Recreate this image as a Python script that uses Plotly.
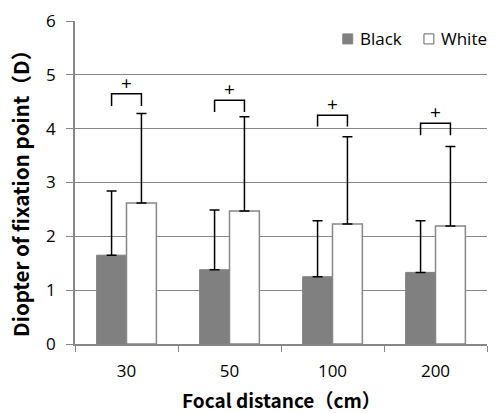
import plotly.graph_objects as go

categories = ["30", "50", "100", "200"]
black_vals = [1.65, 1.38, 1.25, 1.33]
black_err = [1.19, 1.11, 1.04, 0.96]
white_vals = [2.62, 2.47, 2.23, 2.19]
white_err = [1.66, 1.75, 1.62, 1.48]
bracket_top = [4.65, 4.53, 4.25, 4.10]
bracket_leg = [4.42, 4.31, 4.04, 3.88]
yticks = [0, 1, 2, 3, 4, 5, 6]
series_names = ["Black", "White"]
x_title = "Focal distance（cm）"
y_title = "Diopter of fixation point（D）"

FONT = "Open Sans, Liberation Sans, sans-serif"
TFONT = "Noto Sans CJK JP, Open Sans, sans-serif"
GRAY = "#878787"
BARGRAY = "#808080"
bargap = 0.42

fig = go.Figure()
fig.add_trace(go.Bar(
    x=categories, y=black_vals, name=series_names[0],
    marker=dict(color=BARGRAY, line=dict(color=BARGRAY, width=1)),
    error_y=dict(type="data", array=black_err, arrayminus=[0]*4, symmetric=False,
                 color="black", thickness=1.5, width=5),
))
fig.add_trace(go.Bar(
    x=categories, y=white_vals, name=series_names[1],
    marker=dict(color="white", line=dict(color=GRAY, width=1.5)),
    error_y=dict(type="data", array=white_err, arrayminus=[0]*4, symmetric=False,
                 color="black", thickness=1.5, width=5),
))

half = (1 - bargap) / 4  # centre offset of each bar from category centre
for i in range(len(categories)):
    x0, x1 = i - half, i + half
    fig.add_shape(type="path",
                  path=f"M {x0} {bracket_leg[i]} L {x0} {bracket_top[i]} L {x1} {bracket_top[i]} L {x1} {bracket_leg[i]}",
                  xref="x", yref="y", line=dict(color="black", width=1.5))
    fig.add_annotation(x=i, y=bracket_top[i], text="+", showarrow=False,
                       yanchor="bottom", yshift=-4,
                       font=dict(family=FONT, size=19, color="black"))

# Excel-style legend (squares + labels)
leg_items = [
    (series_names[0], BARGRAY, BARGRAY, 0.650),
    (series_names[1], "white", "#666666", 0.847),
]
for name, fill, edge, x0 in leg_items:
    fig.add_shape(type="rect", xref="paper", yref="paper",
                  x0=x0, x1=x0 + 0.024, y0=0.929, y1=0.960,
                  fillcolor=fill, line=dict(color=edge, width=1))
    fig.add_annotation(xref="paper", yref="paper", x=x0 + 0.036, y=0.945,
                       xanchor="left", yanchor="middle", showarrow=False,
                       text=name, font=dict(family=FONT, size=17, color="black"))

# axis titles
fig.add_annotation(xref="paper", yref="paper", x=0.5, y=0, yshift=-55,
                   xanchor="center", yanchor="middle", showarrow=False,
                   text=f"<b>{x_title}</b>", font=dict(family=TFONT, size=19, color="black"))
fig.add_annotation(xref="paper", yref="paper", x=0, y=0.48, xshift=-55,
                   xanchor="center", yanchor="middle", showarrow=False, textangle=-90,
                   text=f"<b>{y_title}</b>", font=dict(family=TFONT, size=20.5, color="black"))

fig.update_layout(
    width=496, height=413,
    margin=dict(l=75, r=9, t=17, b=69),
    paper_bgcolor="white", plot_bgcolor="white",
    barmode="group", bargap=bargap, bargroupgap=0,
    font=dict(family=FONT, size=17, color="black"),
    showlegend=False,
    xaxis=dict(
        type="category", tickson="boundaries", ticks="outside", ticklen=6,
        tickcolor=GRAY, showline=True, linecolor=GRAY, linewidth=1.5,
        showgrid=False, ticklabelstandoff=11,
        tickfont=dict(size=17),
    ),
    yaxis=dict(
        range=[0, 6], tickvals=yticks, ticks="outside", ticklen=7, tickcolor=GRAY,
        showline=True, linecolor=GRAY, linewidth=1.5, ticklabelstandoff=7,
        showgrid=True, gridcolor=GRAY, gridwidth=1, zeroline=False,
        tickfont=dict(size=17),
    ),
)

fig.write_html("out.html", config={"displayModeBar": False},
               post_script="document.body.style.margin='0px';")
